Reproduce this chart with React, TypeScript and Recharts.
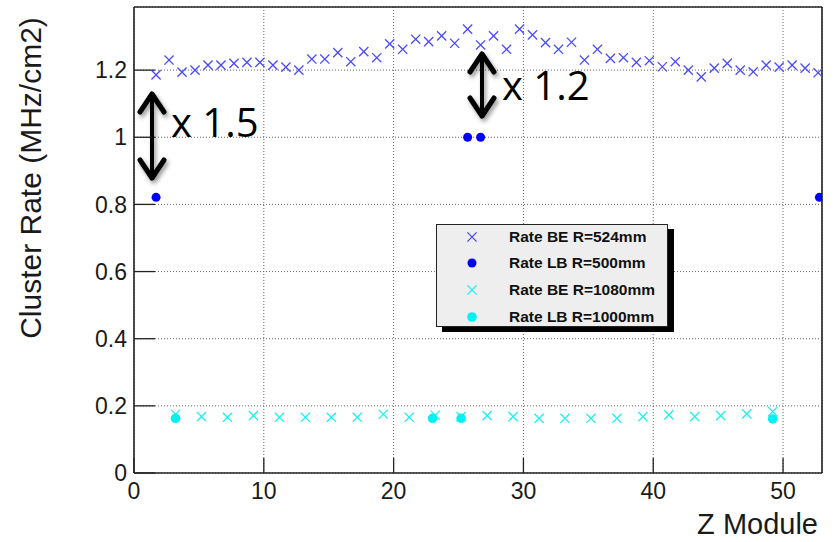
import React from 'react'
import { ScatterChart, Scatter, XAxis, YAxis, CartesianGrid, Legend } from 'recharts'

// Z module positions and cluster rates (MHz/cm2)
const BE524_Z = [
  1.7, 2.7, 3.7, 4.7, 5.7, 6.7, 7.7, 8.7, 9.7, 10.7, 11.7, 12.7, 13.7, 14.7, 15.7, 16.7, 17.7, 18.7,
  19.7, 20.7, 21.7, 22.7, 23.7, 24.7, 25.7, 26.7, 27.7, 28.7, 29.7, 30.7, 31.7, 32.7, 33.7, 34.7, 35.7,
  36.7, 37.7, 38.7, 39.7, 40.7, 41.7, 42.7, 43.7, 44.7, 45.7, 46.7, 47.7, 48.7, 49.7, 50.7, 51.7, 52.7
]
const BE524_RATE = [
  1.186, 1.23, 1.194, 1.2, 1.215, 1.215, 1.22, 1.223, 1.223, 1.215, 1.209, 1.2, 1.233, 1.233, 1.252,
  1.225, 1.255, 1.237, 1.278, 1.262, 1.292, 1.285, 1.302, 1.28, 1.322, 1.275, 1.302, 1.262, 1.322,
  1.305, 1.282, 1.262, 1.283, 1.23, 1.262, 1.235, 1.237, 1.223, 1.228, 1.21, 1.225, 1.2, 1.18, 1.206,
  1.22, 1.2, 1.195, 1.215, 1.209, 1.215, 1.206, 1.192
]
const LB500_Z = [1.7, 25.7, 26.7, 52.8]
const LB500_RATE = [0.821, 1.0, 1.0, 0.821]
const BE1080_Z = [
  3.2, 5.2, 7.2, 9.2, 11.2, 13.2, 15.2, 17.2, 19.2, 21.2, 23.2, 25.2, 27.2, 29.2, 31.2, 33.2, 35.2,
  37.2, 39.2, 41.2, 43.2, 45.2, 47.2, 49.2
]
const BE1080_RATE = [
  0.175, 0.168, 0.166, 0.171, 0.166, 0.166, 0.166, 0.166, 0.175, 0.166, 0.172, 0.168, 0.171, 0.168,
  0.163, 0.163, 0.163, 0.163, 0.168, 0.173, 0.168, 0.171, 0.176, 0.183
]
const LB1000_Z = [3.2, 23.0, 25.2, 49.2]
const LB1000_RATE = [0.163, 0.163, 0.163, 0.161]

const X_MAJOR = [0, 10, 20, 30, 40, 50]
const X_MINOR = [0, 2, 4, 6, 8, 10, 12, 14, 16, 18, 20, 22, 24, 26, 28, 30, 32, 34, 36, 38, 40, 42, 44, 46, 48, 50, 52]
const Y_MAJOR = [0, 0.2, 0.4, 0.6, 0.8, 1, 1.2]
const Y_MINOR = [
  0, 0.05, 0.1, 0.15, 0.2, 0.25, 0.3, 0.35, 0.4, 0.45, 0.5, 0.55, 0.6, 0.65, 0.7, 0.75, 0.8, 0.85,
  0.9, 0.95, 1, 1.05, 1.1, 1.15, 1.2, 1.25, 1.3, 1.35
]
const LABELS = ['Rate BE R=524mm', 'Rate LB R=500mm', 'Rate BE R=1080mm', 'Rate LB R=1000mm']

const X_DOMAIN = [0, 53]
const Y_DOMAIN = [0, 1.388]
const FONT = '"Liberation Sans", Arial, Helvetica, sans-serif'

const toPoints = (zs: number[], rates: number[]) => zs.map((z, i) => ({ x: z, y: rates[i] }))

const cross = (color: string) => (props: any) => {
  const { cx, cy } = props
  const h = 4.6
  return (
    <path
      d={`M${cx - h},${cy - h}L${cx + h},${cy + h}M${cx + h},${cy - h}L${cx - h},${cy + h}`}
      stroke={color}
      strokeWidth={1.3}
      fill="none"
    />
  )
}
const dot = (color: string, r: number) => (props: any) => <circle cx={props.cx} cy={props.cy} r={r} fill={color} />

const SHAPES = [cross('#4a4aff'), dot('#0000ff', 4.5), cross('#1ef0f0'), dot('#00f2f2', 4.8)]

const renderLegend = () => (
  <div
    style={{
      width: 232,
      height: 103,
      boxSizing: 'border-box',
      background: '#eeeeee',
      border: '1px solid #222',
      boxShadow: '6px 5px 0 #000',
      position: 'relative',
      fontFamily: FONT,
      fontWeight: 700,
      fontSize: 15.5,
      color: '#111'
    }}
  >
    {LABELS.map((label, i) => (
      <div
        key={label}
        style={{ position: 'absolute', left: 0, top: 1.5 + i * 26.7, height: 20, display: 'flex', alignItems: 'center' }}
      >
        <svg width={20} height={20} style={{ marginLeft: 25 }}>
          {SHAPES[i]({ cx: 10, cy: 10 })}
        </svg>
        <span style={{ marginLeft: 27, whiteSpace: 'nowrap' }}>{label}</span>
      </div>
    ))}
  </div>
)

const Arrow = ({ x, top, bottom }: { x: number; top: number; bottom: number }) => (
  <g stroke="#000" strokeLinecap="round" strokeLinejoin="round" fill="none" filter="url(#shade)">
    <line x1={x} y1={top} x2={x} y2={bottom} strokeWidth={4} />
    <polyline points={`${x - 12},${top + 18} ${x},${top} ${x + 12},${top + 18}`} strokeWidth={5} />
    <polyline points={`${x - 12},${bottom - 18} ${x},${bottom} ${x + 12},${bottom - 18}`} strokeWidth={5} />
  </g>
)

const tickStyle = { fontSize: 23, fill: '#1a1a1a', fontFamily: FONT }

export default function App() {
  return (
    <div style={{ position: 'absolute', left: 0, top: 0, width: 840, height: 542, background: '#fff' }}>
      <ScatterChart width={840} height={542} margin={{ top: 5, right: 16, bottom: 67, left: 132 }}>
        <CartesianGrid stroke="#666" strokeDasharray="1 2" />
        <XAxis
          type="number" dataKey="x" domain={X_DOMAIN} allowDataOverflow ticks={X_MAJOR} height={1}
          tickSize={-15} tickMargin={25} tick={tickStyle}
          axisLine={{ stroke: '#222', strokeWidth: 1.6 }} tickLine={{ stroke: '#222', strokeWidth: 1.3 }}
        />
        <XAxis
          xAxisId="xm" type="number" dataKey="x" domain={X_DOMAIN} allowDataOverflow ticks={X_MINOR} height={1}
          tickSize={-8} tick={false} axisLine={false} tickLine={{ stroke: '#222', strokeWidth: 1.3 }}
        />
        <XAxis
          xAxisId="xt" orientation="top" type="number" dataKey="x" domain={X_DOMAIN} allowDataOverflow ticks={X_MAJOR}
          height={1} tickSize={-15} tick={false}
          axisLine={{ stroke: '#222', strokeWidth: 1.6 }} tickLine={{ stroke: '#222', strokeWidth: 1.3 }}
        />
        <XAxis
          xAxisId="xtm" orientation="top" type="number" dataKey="x" domain={X_DOMAIN} allowDataOverflow ticks={X_MINOR}
          height={1} tickSize={-8} tick={false} axisLine={false} tickLine={{ stroke: '#222', strokeWidth: 1.3 }}
        />
        <YAxis
          type="number" dataKey="y" domain={Y_DOMAIN} allowDataOverflow ticks={Y_MAJOR} width={1}
          tickSize={-21} tickMargin={28} tick={tickStyle}
          axisLine={{ stroke: '#222', strokeWidth: 1.6 }} tickLine={{ stroke: '#222', strokeWidth: 1.3 }}
        />
        <YAxis
          yAxisId="ym" type="number" dataKey="y" domain={Y_DOMAIN} allowDataOverflow ticks={Y_MINOR} width={1}
          tickSize={-11} tick={false} axisLine={false} tickLine={{ stroke: '#222', strokeWidth: 1.3 }}
        />
        <YAxis
          yAxisId="yr" orientation="right" type="number" dataKey="y" domain={Y_DOMAIN} allowDataOverflow ticks={Y_MAJOR}
          width={1} tickSize={-21} tick={false}
          axisLine={{ stroke: '#222', strokeWidth: 1.6 }} tickLine={{ stroke: '#222', strokeWidth: 1.3 }}
        />
        <YAxis
          yAxisId="yrm" orientation="right" type="number" dataKey="y" domain={Y_DOMAIN} allowDataOverflow ticks={Y_MINOR}
          width={1} tickSize={-11} tick={false} axisLine={false} tickLine={{ stroke: '#222', strokeWidth: 1.3 }}
        />
        <Scatter name={LABELS[0]} data={toPoints(BE524_Z, BE524_RATE)} shape={SHAPES[0]} isAnimationActive={false} />
        <Scatter name={LABELS[1]} data={toPoints(LB500_Z, LB500_RATE)} shape={SHAPES[1]} isAnimationActive={false} />
        <Scatter name={LABELS[2]} data={toPoints(BE1080_Z, BE1080_RATE)} shape={SHAPES[2]} isAnimationActive={false} />
        <Scatter name={LABELS[3]} data={toPoints(LB1000_Z, LB1000_RATE)} shape={SHAPES[3]} isAnimationActive={false} />
        <Legend
          layout="vertical" align="center" verticalAlign="middle" content={renderLegend}
          wrapperStyle={{ left: 436, top: 224, width: 232, height: 103 }}
        />
      </ScatterChart>
      <svg width={840} height={542} style={{ position: 'absolute', left: 0, top: 0, pointerEvents: 'none' }}>
        <defs>
          <filter id="shade" x="-50%" y="-20%" width="200%" height="140%">
            <feDropShadow dx="2" dy="3" stdDeviation="2" floodColor="#000" floodOpacity="0.4" />
          </filter>
        </defs>
        <text x={41} y={178} transform="rotate(-90 41 178)" textAnchor="middle" fontSize={30} fontFamily={FONT} fill="#1a1a1a">
          Cluster Rate (MHz/cm2)
        </text>
        <text x={818} y={534} textAnchor="end" fontSize={29} fontFamily={FONT} fill="#1a1a1a">
          Z Module
        </text>
        <Arrow x={152} top={94} bottom={178} />
        <Arrow x={482} top={54} bottom={116} />
        <text x={171} y={137} fontSize={40} fontFamily='"Open Sans", sans-serif' fill="#000">x 1.5</text>
        <text x={502} y={100} fontSize={40} fontFamily='"Open Sans", sans-serif' fill="#000">x 1.2</text>
      </svg>
    </div>
  )
}
